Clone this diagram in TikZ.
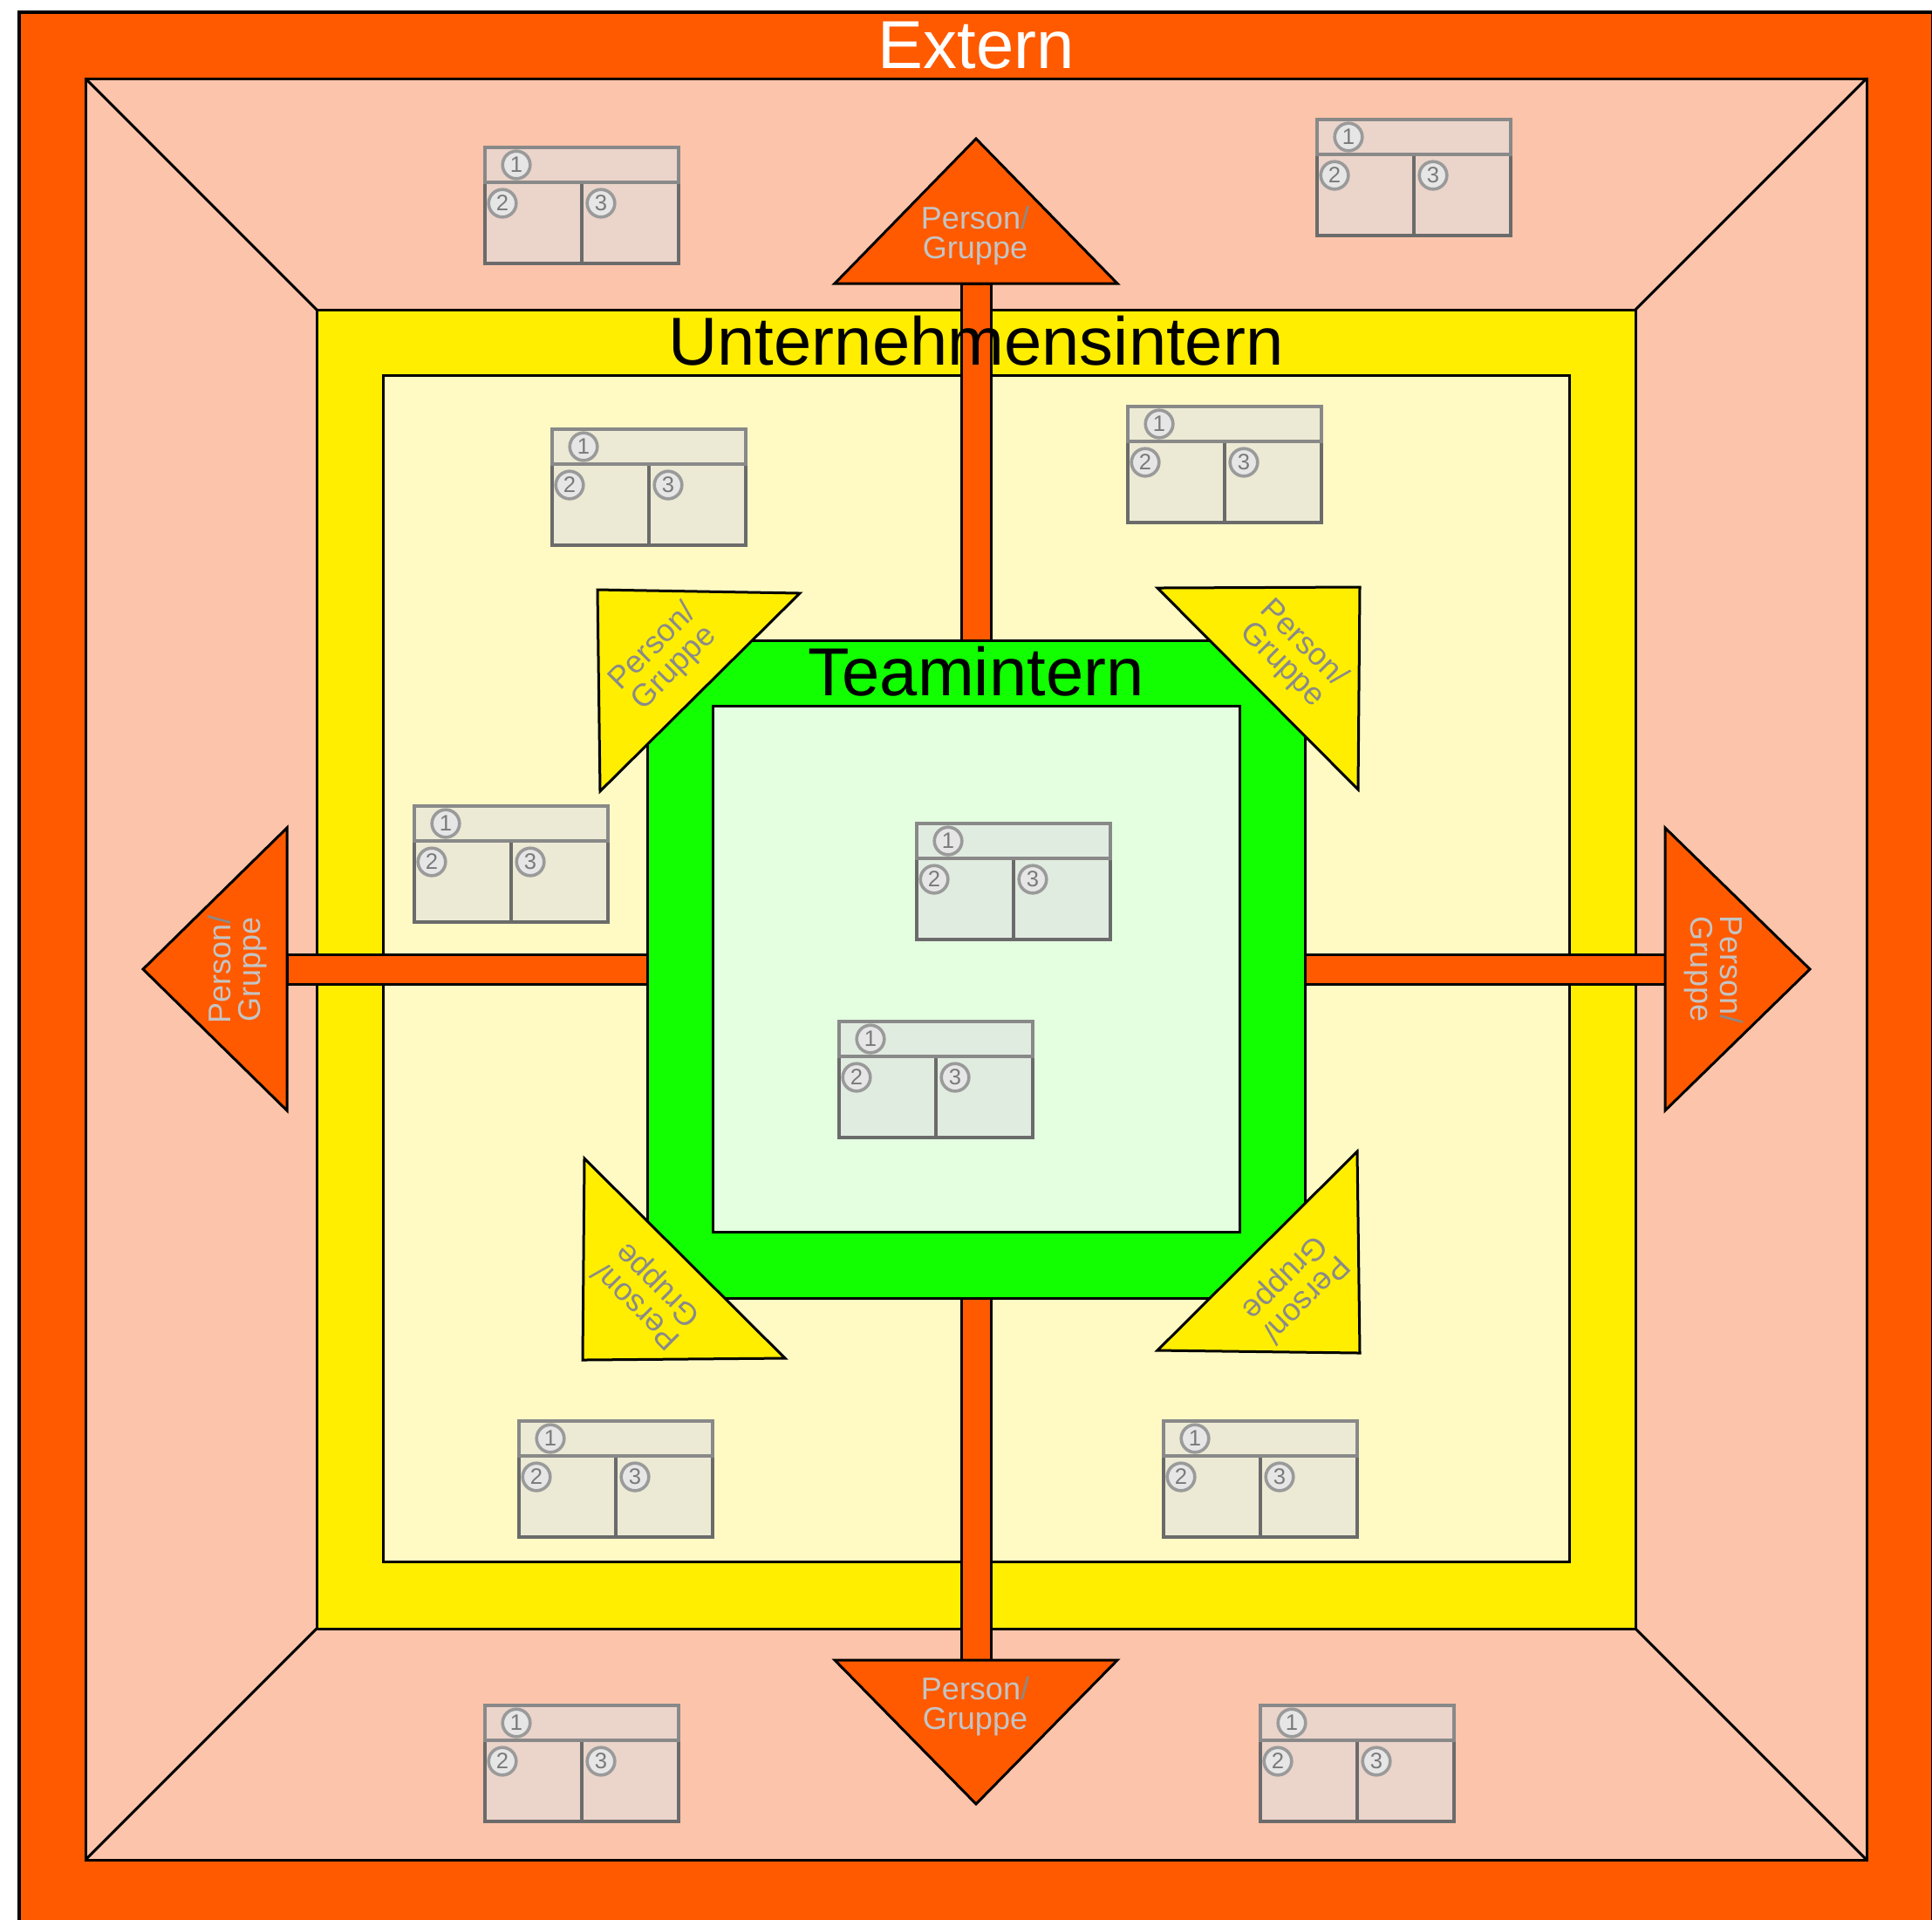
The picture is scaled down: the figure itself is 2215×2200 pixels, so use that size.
\documentclass[tikz,border=0pt]{standalone}
\usepackage{fontspec}
\setmainfont{Liberation Sans}
\definecolor{cOrange}{HTML}{FF5A00}
\definecolor{cPeach}{HTML}{FCC4AA}
\definecolor{cYellow}{HTML}{FFEE00}
\definecolor{cLtYellow}{HTML}{FFF9C4}
\definecolor{cGreen}{HTML}{11FF00}
\definecolor{cLtGreen}{HTML}{E3FFE0}
\definecolor{cCardFill}{HTML}{E0E0E0}
\definecolor{cCardBody}{HTML}{6B6B6B}
\definecolor{cCardHead}{HTML}{898989}
\definecolor{cNumFill}{HTML}{E6E6E6}
\definecolor{cNumLine}{HTML}{9A9A9A}
\definecolor{cNumText}{HTML}{7A7A7A}
\definecolor{cPGlight}{HTML}{C4C4C4}
\definecolor{cPGdark}{HTML}{8A8A8A}
\tikzset{
  bline/.style={draw=black, line width=0.75pt},
  titletext/.style={inner sep=0pt, font=\fontsize{19.45}{22}\selectfont},
  pgtext/.style={align=center, inner sep=0pt, font=\fontsize{9}{8.6}\selectfont},
  pgorange/.style={pgtext, text=cPGlight},
  pgyellow/.style={pgtext, text=cPGdark},
  numc/.style={circle, draw=cNumLine, fill=cNumFill, line width=0.9pt,
    minimum size=7.9pt, inner sep=0pt, text=cNumText, font=\fontsize{6.4}{6.4}\selectfont},
  card/.pic={
    \fill[cCardFill, fill opacity=0.6] (0,0) rectangle (222,133);
    \draw[cCardBody, line width=0.85pt] (0,40) rectangle (222,133) (111,40) -- (111,133);
    \draw[cCardHead, line width=0.85pt] (0,0) rectangle (222,40);
    \node[numc] (-c1) at (36,20) {1};
    \node[numc] (-c2) at (20,64) {2};
    \node[numc] (-c3) at (133,64) {3};
  }
}
\begin{document}
\begin{tikzpicture}[x=0.25pt, y=-0.25pt]
\useasboundingbox (0,0) rectangle (2215,2200);
\fill[white] (0,0) rectangle (2215,2200);
% Extern
\draw[draw=black, line width=1pt, fill=cOrange] (22,14) rectangle (2216,2208);
\draw[bline, fill=cPeach] (98,90) rectangle (2140,2132);
\draw[bline] (98,90) -- (363,355);
\draw[bline] (2140,90) -- (1875,355);
\draw[bline] (98,2132) -- (363,1867);
\draw[bline] (2140,2132) -- (1875,1867);
% Unternehmensintern
\draw[bline, fill=cYellow] (363,355) rectangle (1875,1867);
\draw[bline, fill=cLtYellow] (439,430) rectangle (1799,1790);
% stems
\draw[bline, fill=cOrange] (1102,325) rectangle (1136,734);
\draw[bline, fill=cOrange] (1102,1488) rectangle (1136,1903);
\draw[bline, fill=cOrange] (329,1094) rectangle (742,1128);
\draw[bline, fill=cOrange] (1496,1094) rectangle (1909,1128);
% Teamintern
\draw[bline, fill=cGreen] (742,734) rectangle (1496,1488);
\draw[bline, fill=cLtGreen] (817,809) rectangle (1421,1412);
% titles
\node[titletext, text=white] (tExtern) at (1119,52) {Extern};
\node[titletext, text=black] (tUnt) at (1119,391) {Unternehmensintern};
\node[titletext, text=black] (tTeam) at (1119,770) {Teamintern};
% yellow triangles
\draw[bline, fill=cYellow] (685,676) -- (917,680) -- (688,907) -- cycle;
\draw[bline, fill=cYellow] (1327,674) -- (1559,673) -- (1557,905) -- cycle;
\draw[bline, fill=cYellow] (670,1328) -- (668,1559) -- (900,1557) -- cycle;
\draw[bline, fill=cYellow] (1556,1320) -- (1559,1551) -- (1327,1548) -- cycle;
\node[pgyellow, rotate=45] (yTL) at (761,754) {Person/\\Gruppe};
\node[pgyellow, rotate=-45] (yTR) at (1482,750) {Person/\\Gruppe};
\node[pgyellow, rotate=135] (yBL) at (743,1484) {Person/\\Gruppe};
\node[pgyellow, rotate=225] (yBR) at (1484,1476) {Person/\\Gruppe};
% orange triangles
\draw[bline, fill=cOrange] (957,325) -- (1119,159) -- (1281,325) -- cycle;
\draw[bline, fill=cOrange] (957,1903) -- (1119,2068) -- (1281,1903) -- cycle;
\draw[bline, fill=cOrange] (329,949) -- (164,1111) -- (329,1273) -- cycle;
\draw[bline, fill=cOrange] (1909,949) -- (2075,1111) -- (1909,1273) -- cycle;
\node[pgorange] (oT) at (1118,270) {Person\textcolor{cPGdark}{/}\\Gruppe};
\node[pgorange] (oB) at (1118,1956) {Person\textcolor{cPGdark}{/}\\Gruppe};
\node[pgorange, rotate=90] (oL) at (272,1111) {Person\textcolor{cPGdark}{/}\\Gruppe};
\node[pgorange, rotate=-90] (oR) at (1965,1111) {Person\textcolor{cPGdark}{/}\\Gruppe};
% cards
\pic (k1) at (556,169) {card};
\pic (k2) at (1510,137) {card};
\pic (k3) at (633,492) {card};
\pic (k4) at (1293,466) {card};
\pic (k5) at (475,924) {card};
\pic (k6) at (1051,944) {card};
\pic (k7) at (962,1171) {card};
\pic (k8) at (595,1629) {card};
\pic (k9) at (1334,1629) {card};
\pic (k10) at (556,1955) {card};
\pic (k11) at (1445,1955) {card};
\end{tikzpicture}
\end{document}
